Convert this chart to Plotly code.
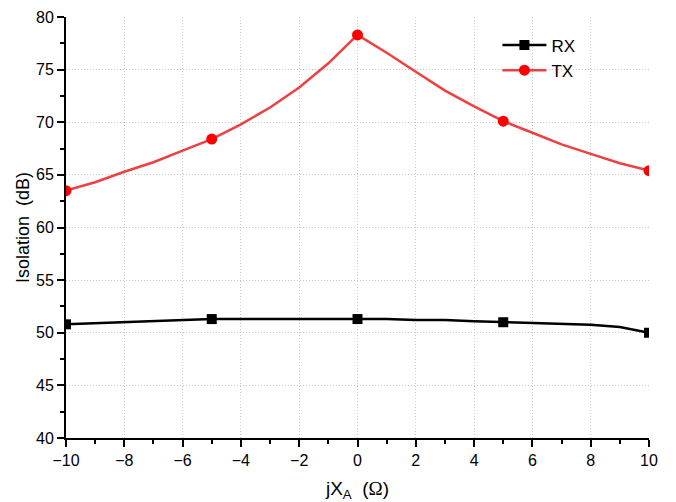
import plotly.graph_objects as go

x_vals = list(range(-10, 11))
rx_vals = [50.8, 50.9, 51.0, 51.1, 51.2, 51.3, 51.3, 51.3, 51.3, 51.3, 51.3,
           51.3, 51.2, 51.2, 51.1, 51.0, 50.9, 50.85, 50.75, 50.55, 50.0]
tx_vals = [63.5, 64.3, 65.3, 66.2, 67.3, 68.4, 69.8, 71.4, 73.3, 75.6, 78.3,
           76.6, 74.8, 73.0, 71.5, 70.1, 69.0, 67.9, 67.0, 66.1, 65.4]
marker_x = [-10, -5, 0, 5, 10]
x_ticks = list(range(-10, 11, 2))
y_ticks = list(range(40, 81, 5))

FONT = "Liberation Sans, Arial"

def subset(vals):
    return [v for xv, v in zip(x_vals, vals) if xv in marker_x]

series = [
    ("RX", rx_vals, "black", "black", "square", 10),
    ("TX", tx_vals, "#EE4040", "#FF0000", "circle", 11),
]

fig = go.Figure()
for name, vals, lc, mc, sym, ms in series:
    fig.add_trace(go.Scatter(
        x=x_vals, y=vals, mode="lines", showlegend=False, legendgroup=name,
        line=dict(color=lc, width=2.5), hoverinfo="skip",
    ))
    fig.add_trace(go.Scatter(
        x=subset(x_vals), y=subset(vals), mode="markers", showlegend=False, legendgroup=name,
        marker=dict(symbol=sym, color=mc, size=ms, line=dict(width=0), opacity=1),
    ))
    fig.add_trace(go.Scatter(
        x=[None], y=[None], mode="lines+markers", name=name, legendgroup=name,
        line=dict(color=lc, width=2.5),
        marker=dict(symbol=sym, color=mc, size=ms, line=dict(width=0)),
    ))

axis_common = dict(
    showline=True, linecolor="black", linewidth=2,
    ticks="outside", ticklen=7, tickwidth=2, tickcolor="black",
    showgrid=True, gridcolor="#C8C8C8", griddash="1px,2px", gridwidth=1,
    zeroline=False, mirror=False, automargin=False,
    tickfont=dict(family=FONT, size=16, color="black"),
)

fig.update_xaxes(
    range=[-10, 10], tickvals=x_ticks,
    minor=dict(ticks="outside", ticklen=4, tickwidth=2, tickcolor="black", dtick=1, showgrid=False),
    title=dict(text="jX<sub>A</sub>  (<span style='font-family:Liberation Serif'>Ω</span>)",
               font=dict(family=FONT, size=19, color="black"), standoff=16),
    **axis_common,
)
fig.update_yaxes(
    range=[40, 80], tickvals=y_ticks,
    minor=dict(ticks="outside", ticklen=4, tickwidth=2, tickcolor="black", dtick=2.5, showgrid=False),
    title=dict(text="Isolation  (dB)", font=dict(family=FONT, size=18, color="black"), standoff=2),
    **axis_common,
)

fig.update_layout(
    width=676, height=502,
    margin=dict(l=66, r=27, t=17, b=64),
    paper_bgcolor="white", plot_bgcolor="white",
    showlegend=True,
    legend=dict(x=0.74, y=0.975, xanchor="left", yanchor="top",
                bgcolor="rgba(0,0,0,0)", font=dict(family=FONT, size=17, color="black"),
                itemwidth=44, tracegroupgap=0),
)

fig.write_html("out.html")
